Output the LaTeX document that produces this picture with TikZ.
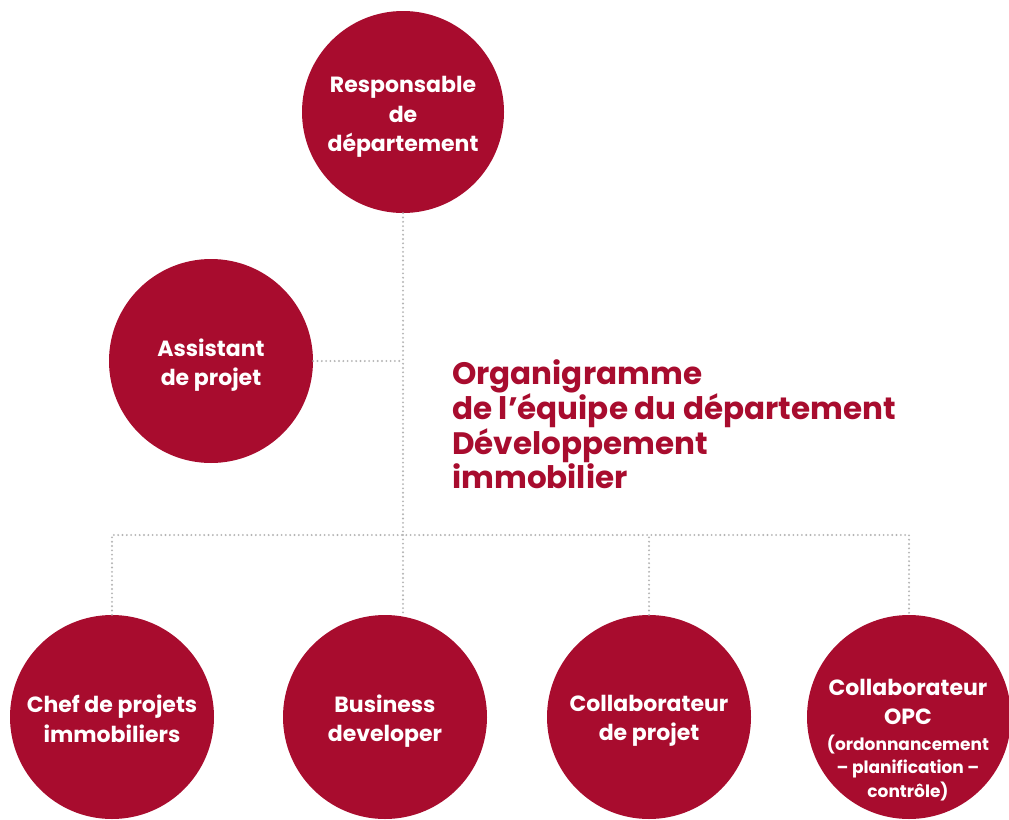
\documentclass[tikz,border=0pt]{standalone}
\usepackage{fontspec}
\setmainfont{Poppins}
\definecolor{crimson}{RGB}{168,12,46}
\definecolor{dotgrey}{RGB}{180,180,180}
\begin{document}
\begin{tikzpicture}[x=1pt,y=-1pt,
  role/.style={circle,fill=crimson,minimum size=#1,inner sep=0pt},
  role/.default=204pt,
  lbl/.style={text=white,align=center,font=\fontsize{22}{29.5}\selectfont\bfseries},
  small/.style={text=white,align=center,font=\fontsize{17}{23.5}\selectfont\bfseries},
  dots/.style={draw=dotgrey,line width=2.1pt,line cap=round,dash pattern=on 0pt off 4.3pt}]
\useasboundingbox[fill=white] (0,0) rectangle (1009,819);
\node[role=202pt] (top) at (403,112) {};
\node[role] (asst) at (211,361) {};
\node[role] (chef) at (112,717) {};
\node[role] (biz) at (385,717) {};
\node[role] (coll) at (649,717) {};
\node[role] (opc) at (909,717) {};
\coordinate (j) at (403,535);
\draw[dots] (top.south) -- (j);
\draw[dots] (asst.east) -- (asst.east -| j);
\draw[dots] (chef.north) -- (chef.north |- j) -- (opc.north |- j) -- (opc.north);
\draw[dots] (j) -- (j |- biz.north);
\draw[dots] (coll.north) -- (coll.north |- j);
\node[lbl] (ttop) at (403,117) {Responsable\\de\\département};
\node[lbl] (tasst) at (211,365) {Assistant\\de projet};
\node[lbl] (tchef) at (112,719) {Chef de projets\\immobiliers};
\node[lbl] (tbiz) at (385,721) {Business\\developer};
\node[lbl] (tcoll) at (649,721) {Collaborateur\\de projet};
\node[lbl] (topc1) at (908,702) {Collaborateur\\OPC};
\node[small] (topc2) at (908,768) {(ordonnancement\\– planification –\\contrôle)};
\node[anchor=north west,align=left,text=crimson,inner sep=0pt,
  font=\fontsize{31}{34}\selectfont\bfseries] (title) at (452,359)
  {Organigramme\\de l’équipe du département\\Développement\\immobilier};
\end{tikzpicture}
\end{document}
